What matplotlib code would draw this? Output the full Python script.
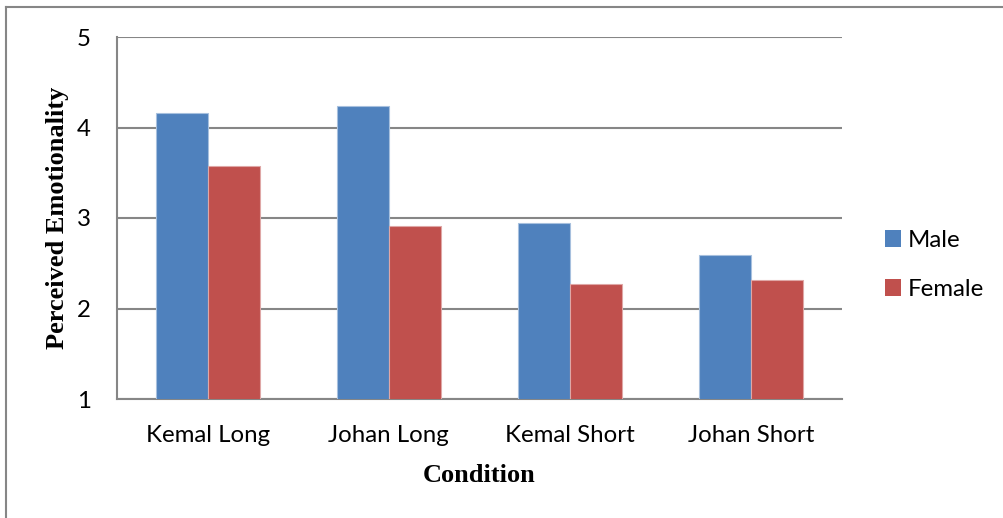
import matplotlib
matplotlib.use("Agg")
import matplotlib.pyplot as plt
import numpy as np
from matplotlib.lines import Line2D

conditions = ["Kemal Long", "Johan Long", "Kemal Short", "Johan Short"]
male = [4.16, 4.24, 2.94, 2.59]
female = [3.57, 2.91, 2.27, 2.31]
y_ticks = [1, 2, 3, 4, 5]

blue = "#4F81BD"
red = "#C0504D"
grid_grey = "#868686"

fig = plt.figure(figsize=(10.04, 5.18), dpi=100)
ax = fig.add_axes([117 / 1004, 1 - 399 / 518, 725 / 1004, 362 / 518])

x = np.arange(len(conditions))
w = 0.287
ax.bar(x - w / 2, male, width=w, bottom=0, color=blue, edgecolor="#A7C0DE",
       linewidth=0.8, label="Male", zorder=3)
ax.bar(x + w / 2, female, width=w, bottom=0, color=red, edgecolor="#DFA7A6",
       linewidth=0.8, label="Female", zorder=3)

tick_font = {"family": "Lato", "size": 17.3}

ax.set_xlim(-0.5, len(conditions) - 0.5)
ax.set_ylim(1, 5)
ax.set_yticks(y_ticks)
ax.set_xticks(x)
ax.set_xticklabels(conditions, fontdict=tick_font)
ax.set_yticklabels([str(t) for t in y_ticks], fontdict=tick_font)
ax.tick_params(axis="both", length=0)
ax.tick_params(axis="y", pad=19)
ax.tick_params(axis="x", pad=19)

ax.yaxis.grid(True, color=grid_grey, linewidth=1.5, zorder=0)
ax.set_axisbelow(True)
for side in ["top", "right"]:
    ax.spines[side].set_visible(False)
for side in ["left", "bottom"]:
    ax.spines[side].set_color(grid_grey)
    ax.spines[side].set_linewidth(1.5)

ax.set_ylabel("Perceived Emotionality", fontfamily="Liberation Serif",
              fontweight="bold", fontsize=19)
ax.yaxis.set_label_coords((69 - 117) / 725, (399 - 218) / 362)
ax.set_xlabel("Condition", fontfamily="Liberation Serif", fontweight="bold",
              fontsize=19)
ax.xaxis.set_label_coords((479 - 117) / 725, -(464 - 399) / 362)

leg = ax.legend(loc="center left", bbox_to_anchor=(863 / 1004, 1 - 265 / 518),
                bbox_transform=fig.transFigure, frameon=False,
                prop={"family": "Lato", "size": 17.3},
                handlelength=0.7, handleheight=0.7, handletextpad=0.25,
                labelspacing=1.15)
for p in leg.get_patches():
    p.set_edgecolor("none")

# outer chart frame (top and left edges)
fig.add_artist(Line2D([5.5 / 1004, 1], [1 - 6.5 / 518, 1 - 6.5 / 518],
                      transform=fig.transFigure, color=grid_grey, linewidth=1.5))
fig.add_artist(Line2D([5.5 / 1004, 5.5 / 1004], [0, 1 - 6.5 / 518],
                      transform=fig.transFigure, color=grid_grey, linewidth=1.5))

fig.savefig("out.png", dpi=100)
